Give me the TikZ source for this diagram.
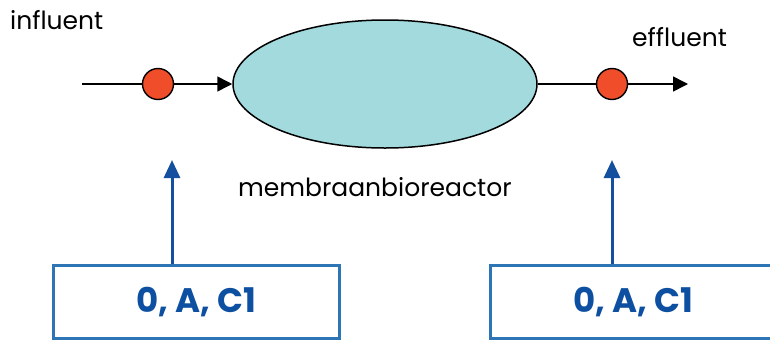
\documentclass[tikz,border=0pt]{standalone}
\usepackage{fontspec}
\setmainfont{Poppins}
\usetikzlibrary{arrows.meta,shapes.geometric}
\definecolor{redc}{RGB}{240,78,42}
\definecolor{cyanf}{RGB}{162,218,222}
\definecolor{boxblue}{RGB}{46,117,182}
\definecolor{txtblue}{RGB}{13,79,160}
\definecolor{arrblue}{RGB}{21,80,160}
\tikzset{
  dot/.style={circle,draw=black,line width=1.4pt,fill=redc,minimum size=31pt,inner sep=0pt},
  flow/.style={line width=1.5pt,-{Triangle[length=15pt,width=15pt]}},
  plain/.style={line width=1.5pt},
  lbl/.style={font=\fontsize{25pt}{28pt}\selectfont,inner sep=0pt,anchor=base west},
  ctrl/.style={draw=boxblue,line width=3pt,minimum width=286pt,minimum height=73pt,inner sep=0pt,font=\fontsize{34pt}{38pt}\selectfont\bfseries,text=txtblue},
  up/.style={draw=arrblue,line width=3pt,-{Triangle[length=18pt,width=16pt]}}
}
\begin{document}
\begin{tikzpicture}[x=1pt,y=-1pt]
\useasboundingbox (0,0) rectangle (770,341);
\node[lbl] (inf) at (10,29) {influent};
\node[lbl] (eff) at (632,46) {effluent};
\node[ellipse,draw=black,line width=1.5pt,fill=cyanf,minimum width=304pt,minimum height=128pt,inner sep=0pt] (mbr) at (385,84) {};
\node[lbl] (mlab) at (238,196) {membraanbioreactor};
\coordinate (start) at (82,84);
\coordinate (end) at (688,84);
\node[dot] (d1) at (158,84) {};
\node[dot] (d2) at (612,84) {};
\draw[plain] (start) -- (d1);
\draw[flow] (d1) -- (mbr.west);
\draw[plain] (mbr.east) -- (d2);
\draw[flow] (d2) -- (end);
\node[ctrl] (b1) at (196,302) {0, A, C1};
\node[ctrl] (b2) at (633,302) {0, A, C1};
\coordinate (t1) at (172,160);
\coordinate (t2) at (612,160);
\draw[up] (b1.north -| t1) -- (t1);
\draw[up] (b2.north -| t2) -- (t2);
\end{tikzpicture}
\end{document}
